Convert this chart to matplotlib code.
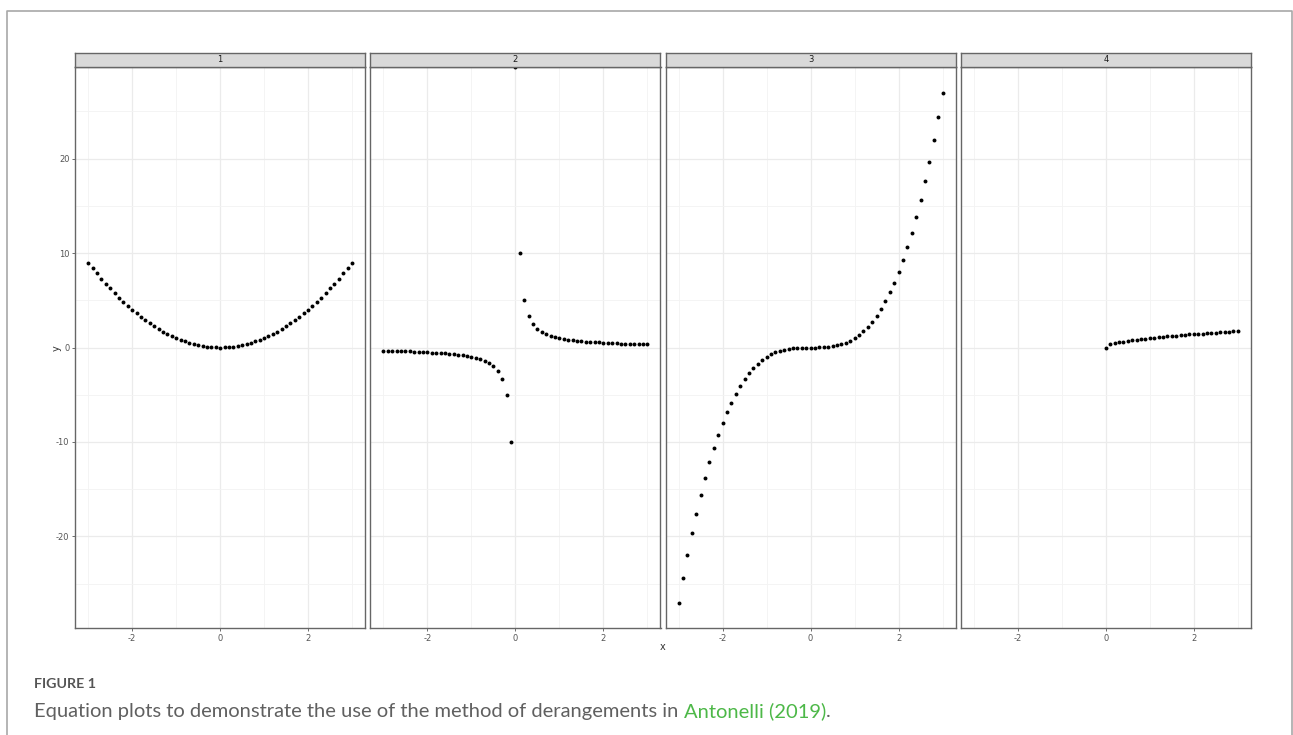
import numpy as np
import matplotlib
matplotlib.use("Agg")
import matplotlib.pyplot as plt
from matplotlib.lines import Line2D

x_vals = [-3.0, -2.9, -2.8, -2.7, -2.6, -2.5, -2.4, -2.3, -2.2, -2.1,
          -2.0, -1.9, -1.8, -1.7, -1.6, -1.5, -1.4, -1.3, -1.2, -1.1,
          -1.0, -0.9, -0.8, -0.7, -0.6, -0.5, -0.4, -0.3, -0.2, -0.1,
          0.0, 0.1, 0.2, 0.3, 0.4, 0.5, 0.6, 0.7, 0.8, 0.9,
          1.0, 1.1, 1.2, 1.3, 1.4, 1.5, 1.6, 1.7, 1.8, 1.9,
          2.0, 2.1, 2.2, 2.3, 2.4, 2.5, 2.6, 2.7, 2.8, 2.9, 3.0]

y_panel1 = [9.00, 8.41, 7.84, 7.29, 6.76, 6.25, 5.76, 5.29, 4.84, 4.41,
            4.00, 3.61, 3.24, 2.89, 2.56, 2.25, 1.96, 1.69, 1.44, 1.21,
            1.00, 0.81, 0.64, 0.49, 0.36, 0.25, 0.16, 0.09, 0.04, 0.01,
            0.00, 0.01, 0.04, 0.09, 0.16, 0.25, 0.36, 0.49, 0.64, 0.81,
            1.00, 1.21, 1.44, 1.69, 1.96, 2.25, 2.56, 2.89, 3.24, 3.61,
            4.00, 4.41, 4.84, 5.29, 5.76, 6.25, 6.76, 7.29, 7.84, 8.41, 9.00]

y_panel2 = [-0.33, -0.34, -0.36, -0.37, -0.38, -0.40, -0.42, -0.43, -0.45, -0.48,
            -0.50, -0.53, -0.56, -0.59, -0.63, -0.67, -0.71, -0.77, -0.83, -0.91,
            -1.00, -1.11, -1.25, -1.43, -1.67, -2.00, -2.50, -3.33, -5.00, -10.00,
            np.inf, 10.00, 5.00, 3.33, 2.50, 2.00, 1.67, 1.43, 1.25, 1.11,
            1.00, 0.91, 0.83, 0.77, 0.71, 0.67, 0.63, 0.59, 0.56, 0.53,
            0.50, 0.48, 0.45, 0.43, 0.42, 0.40, 0.38, 0.37, 0.36, 0.34, 0.33]

y_panel3 = [-27.00, -24.39, -21.95, -19.68, -17.58, -15.63, -13.82, -12.17, -10.65, -9.26,
            -8.00, -6.86, -5.83, -4.91, -4.10, -3.38, -2.74, -2.20, -1.73, -1.33,
            -1.00, -0.73, -0.51, -0.34, -0.22, -0.13, -0.06, -0.03, -0.01, -0.00,
            0.00, 0.00, 0.01, 0.03, 0.06, 0.13, 0.22, 0.34, 0.51, 0.73,
            1.00, 1.33, 1.73, 2.20, 2.74, 3.38, 4.10, 4.91, 5.83, 6.86,
            8.00, 9.26, 10.65, 12.17, 13.82, 15.63, 17.58, 19.68, 21.95, 24.39, 27.00]

x_panel4 = [0.0, 0.1, 0.2, 0.3, 0.4, 0.5, 0.6, 0.7, 0.8, 0.9,
            1.0, 1.1, 1.2, 1.3, 1.4, 1.5, 1.6, 1.7, 1.8, 1.9,
            2.0, 2.1, 2.2, 2.3, 2.4, 2.5, 2.6, 2.7, 2.8, 2.9, 3.0]
y_panel4 = [0.00, 0.32, 0.45, 0.55, 0.63, 0.71, 0.77, 0.84, 0.89, 0.95,
            1.00, 1.05, 1.10, 1.14, 1.18, 1.22, 1.26, 1.30, 1.34, 1.38,
            1.41, 1.45, 1.48, 1.52, 1.55, 1.58, 1.61, 1.64, 1.67, 1.70, 1.73]

facet_labels = ["1", "2", "3", "4"]
panels = [(x_vals, y_panel1), (x_vals, y_panel2), (x_vals, y_panel3), (x_panel4, y_panel4)]

W, H = 1293, 735
plt.rcParams['font.family'] = ['DejaVu Sans']
plt.rcParams['axes.unicode_minus'] = False
fig = plt.figure(figsize=(W / 100, H / 100), dpi=100)

xlim = (-3.3, 3.3)
ylim = (-29.7, 29.7)

left0, right0 = 75, 1251
strip_top, panel_top, panel_bot = 53, 67, 628
gap = 5
pw = (right0 - left0 - 3 * gap) / 4

for i, (lab, (xs, ys)) in enumerate(zip(facet_labels, panels)):
    px = left0 + i * (pw + gap)
    ax = fig.add_axes([px / W, 1 - panel_bot / H, pw / W, (panel_bot - panel_top) / H])
    ys_draw = np.clip(np.array(ys, dtype=float), ylim[0], ylim[1])  # Inf -> panel edge
    ax.scatter(xs, ys_draw, s=8, color='black', linewidths=0, zorder=3, clip_on=False)
    ax.set_xlim(xlim)
    ax.set_ylim(ylim)
    ax.set_xticks([-2, 0, 2])
    ax.set_xticks([-3, -1, 1, 3], minor=True)
    ax.set_yticks([-20, -10, 0, 10, 20])
    ax.set_yticks([-25, -15, -5, 5, 15, 25], minor=True)
    ax.grid(True, which='major', color='#ebebeb', linewidth=0.9)
    ax.grid(True, which='minor', color='#f3f3f3', linewidth=0.6)
    ax.set_axisbelow(True)
    for sp in ax.spines.values():
        sp.set_color('#666666')
        sp.set_linewidth(1.0)
    ax.tick_params(which='major', length=2, width=0.6, color='#555555',
                   labelsize=6, labelcolor='#555555', pad=2)
    ax.tick_params(which='minor', length=0)
    if i > 0:
        ax.tick_params(axis='y', which='both', left=False, labelleft=False)

    sax = fig.add_axes([px / W, 1 - panel_top / H, pw / W, (panel_top - strip_top) / H])
    sax.set_facecolor('#d9d9d9')
    sax.set_xticks([])
    sax.set_yticks([])
    for sp in sax.spines.values():
        sp.set_color('#666666')
        sp.set_linewidth(1.0)
    sax.text(0.5, 0.5, lab, ha='center', va='center', fontsize=6, color='#1a1a1a',
             transform=sax.transAxes)

fig.text(663 / W, 1 - 647 / H, "x", ha='center', va='center', fontsize=7, color='#333333')
fig.text(57 / W, 1 - 348 / H, "y", ha='center', va='center', fontsize=7, color='#333333',
         rotation=90)

# page frame
frame = Line2D([7 / W, 7 / W, 1292 / W, 1292 / W], [0, 1 - 11 / H, 1 - 11 / H, 0],
               transform=fig.transFigure, color='#a8a8a8', linewidth=1.2)
fig.add_artist(frame)

# caption
cap_x = 34
fig.text(cap_x / W, 1 - 688 / H, "FIGURE 1", ha='left', va='baseline', fontsize=10.3,
         fontweight='bold', color='#555555', family='Lato')
cap_y = 1 - 717 / H
cap = fig.text(cap_x / W, cap_y,
               "Equation plots to demonstrate the use of the method of derangements in ",
               ha='left', va='baseline', fontsize=14.5, color='#606060', family='Lato')
fig.canvas.draw()
bb = cap.get_window_extent()
ref = fig.text(bb.x1 / W, cap_y, "Antonelli (2019)", ha='left', va='baseline',
               fontsize=14.5, color='#4db848', family='Lato')
fig.canvas.draw()
bb2 = ref.get_window_extent()
fig.text(bb2.x1 / W, cap_y, ".", ha='left', va='baseline', fontsize=14.5,
         color='#606060', family='Lato')

fig.savefig("out.png", dpi=100)
